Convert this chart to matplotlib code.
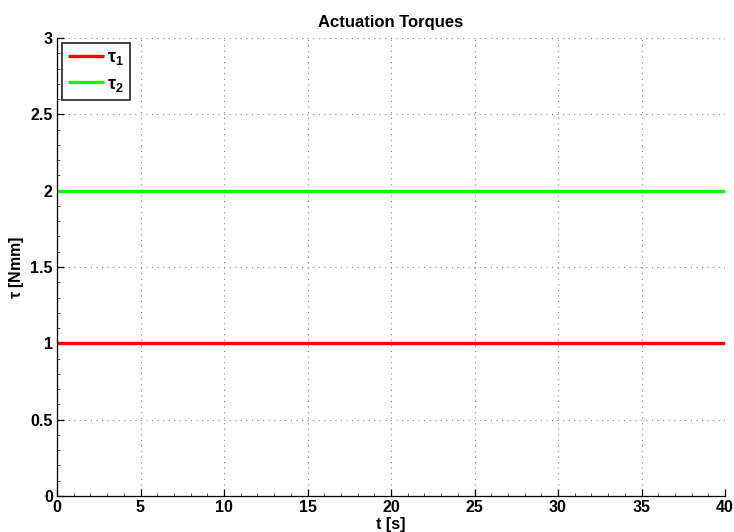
import matplotlib
matplotlib.use("Agg")
import matplotlib.pyplot as plt
from matplotlib.ticker import MultipleLocator

plt.rcParams['font.family'] = ['Liberation Sans', 'DejaVu Sans']
plt.rcParams['font.weight'] = 'bold'
plt.rcParams['mathtext.fontset'] = 'custom'
plt.rcParams['mathtext.rm'] = 'Liberation Sans:bold'
plt.rcParams['mathtext.it'] = 'Liberation Sans:bold'
plt.rcParams['mathtext.bf'] = 'Liberation Sans:bold'

t = [0, 40]
tau1 = [1, 1]
tau2 = [2, 2]
xticks = [0, 5, 10, 15, 20, 25, 30, 35, 40]
yticks = [0, 0.5, 1, 1.5, 2, 2.5, 3]
ytick_labels = ['0', '0.5', '1', '1.5', '2', '2.5', '3']

fig = plt.figure(figsize=(7.34, 5.32), dpi=100)
ax = fig.add_axes([57/734, 36/532, (725-57)/734, (496-38)/532])

ax.plot(t, tau1, color='#ff0000', lw=2.4, label=r'$\mathregular{\tau_1}$', solid_capstyle='butt')
ax.plot(t, tau2, color='#00ff00', lw=2.4, label=r'$\mathregular{\tau_2}$', solid_capstyle='butt')

ax.set_xlim(0, 40)
ax.set_ylim(0, 3)
ax.set_xticks(xticks)
ax.set_xticklabels([str(v) for v in xticks])
ax.set_yticks(yticks)
ax.set_yticklabels(ytick_labels)
ax.xaxis.set_minor_locator(MultipleLocator(1))
ax.yaxis.set_minor_locator(MultipleLocator(0.1))

for s in ['top', 'right']:
    ax.spines[s].set_visible(False)
for s in ['left', 'bottom']:
    ax.spines[s].set_linewidth(0.9)

ax.tick_params(which='major', direction='in', length=5, width=0.9, labelsize=11.5, pad=3)
ax.tick_params(which='minor', direction='in', length=2, width=0.5)
ax.grid(True, which='major', linestyle=(0, (1, 4)), color='#888888', linewidth=0.8)

ax.set_title('Actuation Torques', fontsize=12, fontweight='bold', pad=8)
ax.set_xlabel('t [s]', fontsize=11.5, fontweight='bold', labelpad=1)
ax.set_ylabel(r'$\mathregular{\tau}$ [Nmm]', fontsize=11.5, fontweight='bold', labelpad=3)

leg = ax.legend(loc='upper left', fontsize=13, frameon=True, fancybox=False,
                edgecolor='black', handlelength=2.0, handletextpad=0.15,
                borderpad=0.35, labelspacing=0.45, borderaxespad=0.28)
leg.get_frame().set_linewidth(1.3)

fig.savefig('out.png', dpi=100)
